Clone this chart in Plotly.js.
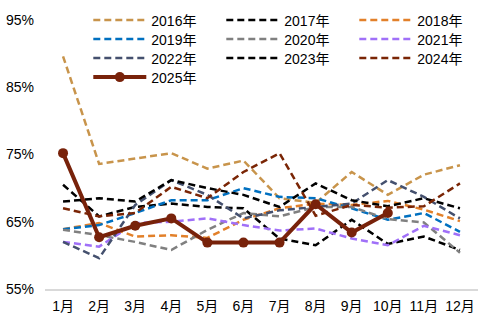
<!DOCTYPE html>
<html>
<head>
<meta charset="utf-8">
<script src="https://cdn.plot.ly/plotly-3.0.1.min.js"></script>
<style>html,body{margin:0;padding:0;background:#fff;}#chart{width:488px;height:321px;}</style>
</head>
<body>
<div id="chart"></div>
<script>
const months = ['1月','2月','3月','4月','5月','6月','7月','8月','9月','10月','11月','12月'];
const yTicks = [55, 65, 75, 85, 95];

const y2016 = [89.6, 73.6, 74.4, 75.2, 72.9, 74.1, 68.5, 67.8, 72.4, 69.0, 72.0, 73.4];
const y2017 = [70.5, 65.8, 67.2, 67.7, 67.2, 67.0, 62.5, 61.5, 65.3, 61.7, 62.8, 60.8];
const y2018 = [63.9, 64.8, 62.8, 63.0, 62.6, 65.3, 67.0, 67.7, 67.5, 68.1, 66.8, 65.1];
const y2019 = [63.9, 64.5, 66.3, 68.2, 68.2, 70.0, 68.7, 68.5, 67.0, 65.3, 66.3, 63.5];
const y2020 = [63.8, 63.0, 62.0, 60.8, 63.8, 66.3, 65.8, 67.2, 67.2, 65.4, 64.9, 60.4];
const y2021 = [62.0, 61.3, 64.8, 65.0, 65.5, 64.5, 63.7, 64.0, 62.5, 61.5, 64.4, 63.0];
const y2022 = [62.0, 59.6, 67.5, 71.2, 69.0, 65.5, 66.7, 67.2, 67.7, 71.2, 68.7, 65.5];
const y2023 = [68.0, 68.5, 68.0, 71.2, 70.0, 69.0, 67.2, 70.7, 68.2, 67.3, 68.5, 67.0];
const y2024 = [67.0, 65.8, 66.3, 70.2, 68.5, 72.4, 75.2, 65.9, 67.5, 67.1, 67.3, 70.7];
const y2025 = [75.2, 62.7, 64.4, 65.5, 61.9, 61.9, 61.9, 67.6, 63.4, 66.3];

const series = [
  {name:'2016年', y:y2016, color:'#C8944B', legend:'legend'},
  {name:'2017年', y:y2017, color:'#000000', legend:'legend'},
  {name:'2018年', y:y2018, color:'#E2802A', legend:'legend'},
  {name:'2019年', y:y2019, color:'#0070C0', legend:'legend2'},
  {name:'2020年', y:y2020, color:'#808080', legend:'legend2'},
  {name:'2021年', y:y2021, color:'#A070F8', legend:'legend2'},
  {name:'2022年', y:y2022, color:'#44506E', legend:'legend3'},
  {name:'2023年', y:y2023, color:'#000000', legend:'legend3'},
  {name:'2024年', y:y2024, color:'#7A2505', legend:'legend3'}
];

const traces = series.map(s => ({
  type:'scatter', mode:'lines', name:s.name, legend:s.legend,
  x: months.slice(0, s.y.length), y: s.y,
  line:{color:s.color, width:2.5, dash:'7px,4px'},
  hoverinfo:'skip'
}));
traces.push({
  type:'scatter', mode:'lines+markers', name:'2025年', legend:'legend4',
  x: months.slice(0, y2025.length), y: y2025,
  line:{color:'#78220A', width:4},
  marker:{color:'#78220A', size:10},
  hoverinfo:'skip'
});

const font = {family:'"Liberation Sans", Arial, "Noto Sans CJK SC", sans-serif', size:14, color:'#000'};

function legendRow(y) {
  return {
    orientation:'h', xref:'paper', yref:'paper',
    x:0.1, y:y, xanchor:'left', yanchor:'top',
    itemwidth:53,
    entrywidth:65, entrywidthmode:'pixels',
    bgcolor:'rgba(0,0,0,0)', font:font, traceorder:'normal'
  };
}

const layout = {
  width:488, height:321,
  margin:{l:45, r:10, t:20, b:32, autoexpand:false},
  paper_bgcolor:'#fff', plot_bgcolor:'#fff',
  font: font,
  showlegend:true,
  legend: legendRow(1.0576),
  legend2: legendRow(0.987),
  legend3: legendRow(0.9164),
  legend4: legendRow(0.8457),
  xaxis:{
    type:'category', categoryorder:'array', categoryarray:months,
    range:[-0.5, 11.5], showgrid:false, zeroline:false,
    showline:true, linecolor:'#d9d9d9', linewidth:1.5,
    ticks:'', ticklabelstandoff:4, tickfont:font, fixedrange:true
  },
  yaxis:{
    range:[55, 95], tickvals:yTicks, ticktext:yTicks.map(v => v + '%'),
    showgrid:false, zeroline:false, showline:false,
    ticks:'', ticklabelstandoff:10, tickfont:font, fixedrange:true
  }
};

Plotly.newPlot('chart', traces, layout, {staticPlot:true, displayModeBar:false}).then(gd => {
  // lengthen legend line samples to match the reference's longer keys
  gd.querySelectorAll('.legend .legendlines path').forEach(p => p.setAttribute('d', 'M5,0h55'));
  gd.querySelectorAll('.legend .legendpoints path.scatterpts').forEach(p => p.setAttribute('transform', 'translate(32,0)'));
});
</script>
</body>
</html>
